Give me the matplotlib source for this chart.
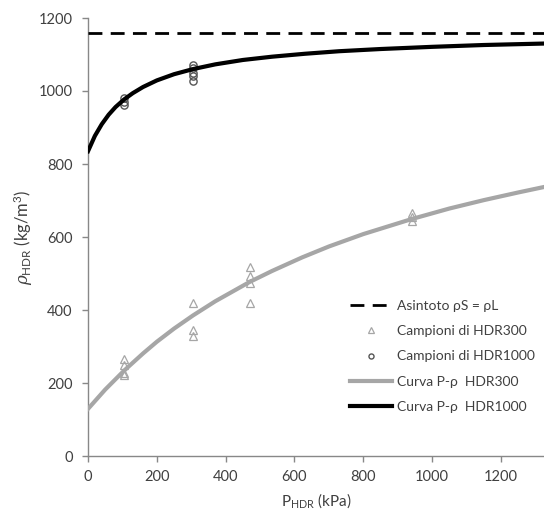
import matplotlib
matplotlib.use("Agg")
import matplotlib.pyplot as plt

plt.rcParams['font.family'] = ['Lato', 'DejaVu Sans']
plt.rcParams['mathtext.fontset'] = 'custom'
plt.rcParams['mathtext.rm'] = 'Lato'
plt.rcParams['mathtext.it'] = 'DejaVu Serif:italic'

# Data
asymptote = 1160

hdr300_x = [105, 105, 105, 105, 305, 305, 305, 470, 470, 470, 470, 940, 940, 940]
hdr300_y = [265, 250, 228, 222, 420, 345, 328, 518, 493, 473, 418, 667, 655, 645]

hdr1000_x = [105, 105, 105, 305, 305, 305, 305, 305]
hdr1000_y = [980, 970, 962, 1072, 1062, 1050, 1040, 1027]

curve300_x = [0, 50, 105, 160, 200, 250, 305, 370, 470, 535, 622, 700, 800, 940, 1050, 1150, 1250, 1325]
curve300_y = [129, 182, 234, 281, 313, 349, 385, 424, 477, 507, 544, 574, 608, 649, 678, 701, 722, 737]

curve1000_x = [0, 20, 40, 60, 80, 105, 130, 160, 200, 250, 305, 370, 450, 535, 630, 730, 850, 1000, 1150, 1325]
curve1000_y = [835, 877, 909, 935, 956, 977, 994, 1011, 1029, 1046, 1060, 1073, 1085, 1094, 1102, 1109, 1115, 1121, 1126, 1130]

xticks = [0, 200, 400, 600, 800, 1000, 1200]
yticks = [0, 200, 400, 600, 800, 1000, 1200]

text_color = '#404040'
spine_color = '#888888'

fig = plt.figure(figsize=(5.44, 5.11), dpi=100)
ax = fig.add_axes([88/544, 55/511, (544-88)/544, (456-18)/511])

ax.axhline(asymptote, color='black', lw=2, dashes=(5, 3), label='Asintoto ρS = ρL', zorder=3)
ax.plot(hdr300_x, hdr300_y, linestyle='none', marker='^', markersize=5.5, markerfacecolor='none',
        markeredgecolor='#a6a6a6', markeredgewidth=0.9, label='Campioni di HDR300', zorder=2)
ax.plot(hdr1000_x, hdr1000_y, linestyle='none', marker='o', markersize=5.2, markerfacecolor='none',
        markeredgecolor='#555555', markeredgewidth=1.0, label='Campioni di HDR1000', zorder=2)
ax.plot(curve300_x, curve300_y, color='#a6a6a6', lw=3, label='Curva P-ρ  HDR300', zorder=4)
ax.plot(curve1000_x, curve1000_y, color='black', lw=3, label='Curva P-ρ  HDR1000', zorder=4)

ax.set_xlim(0, 1325)
ax.set_ylim(0, 1200)
ax.set_xticks(xticks)
ax.set_yticks(yticks)
ax.tick_params(axis='both', colors=spine_color, labelcolor=text_color, labelsize=10.5, length=4, width=1)
ax.tick_params(axis='x', pad=6)
ax.tick_params(axis='y', pad=7)
for s in ['top', 'right']:
    ax.spines[s].set_visible(False)
for s in ['left', 'bottom']:
    ax.spines[s].set_color(spine_color)
    ax.spines[s].set_linewidth(1)

ax.set_xlabel(r'P$_{\mathrm{HDR}}$ (kPa)', fontsize=11, color=text_color, labelpad=5)
ax.set_ylabel(r'$\rho_{\mathrm{HDR}}$ (kg/m$^3$)', fontsize=12, color=text_color, labelpad=3)

leg = ax.legend(loc='upper left', bbox_to_anchor=(350/544, 1 - 300/511), bbox_transform=fig.transFigure,
                frameon=False, fontsize=10, handlelength=3.0, handletextpad=0.4,
                labelspacing=0.95, borderpad=0, borderaxespad=0, markerscale=0.7)
for t in leg.get_texts():
    t.set_color(text_color)

fig.savefig('out.png', dpi=100)
